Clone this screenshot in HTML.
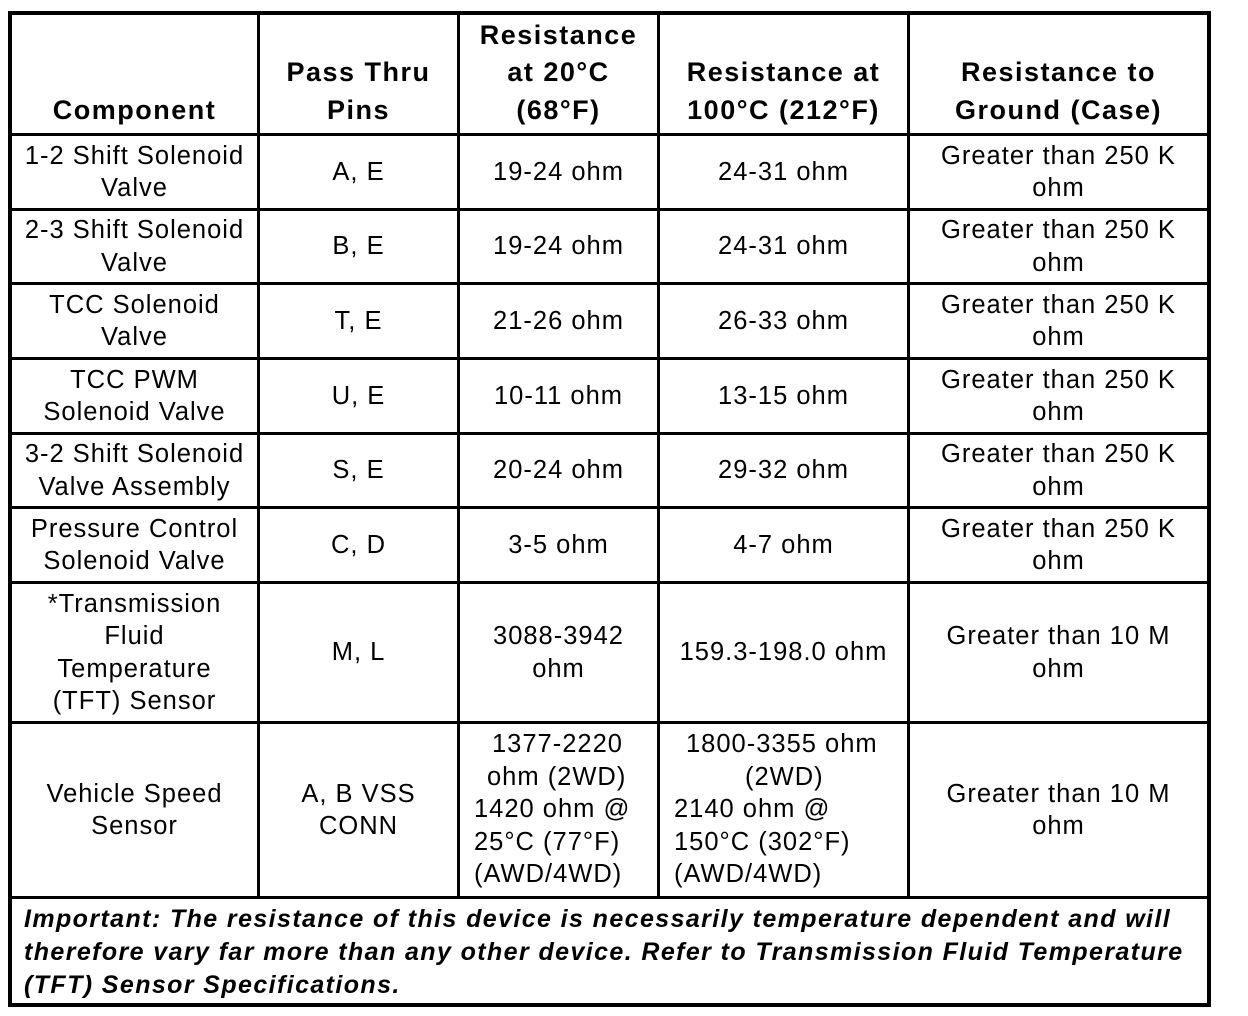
<!DOCTYPE html>
<html><head><meta charset="utf-8"><style>
body{margin:0;width:1248px;height:1016px;background:#fff;position:relative;font-family:"Liberation Sans",Arial,sans-serif;color:#000;overflow:hidden}
.l{position:absolute;background:#000}
.c{position:absolute;display:flex;flex-direction:column;justify-content:center;align-items:center;text-align:center;font-size:25.5px;letter-spacing:1px;line-height:32.5px;white-space:nowrap}
.h{justify-content:flex-end;font-weight:bold;font-size:27px;letter-spacing:1.5px;line-height:37.5px;padding-bottom:4px;box-sizing:border-box}
.v{position:absolute;font-size:25.5px;letter-spacing:1px;line-height:32.5px;white-space:nowrap}
.n{position:absolute;left:24px;top:903px;font-size:25px;letter-spacing:1.4px;line-height:33px;font-weight:bold;font-style:italic;white-space:nowrap}
</style></head><body>
<div class="l" style="left:8px;top:11px;width:1203px;height:4px"></div>
<div class="l" style="left:8px;top:1003px;width:1203px;height:4px"></div>
<div class="l" style="left:8px;top:11px;width:4px;height:996px"></div>
<div class="l" style="left:1207px;top:11px;width:4px;height:996px"></div>
<div class="l" style="left:257px;top:11px;width:3px;height:887px"></div>
<div class="l" style="left:457px;top:11px;width:3px;height:887px"></div>
<div class="l" style="left:657px;top:11px;width:3px;height:887px"></div>
<div class="l" style="left:907px;top:11px;width:3px;height:887px"></div>
<div class="l" style="left:8px;top:133px;width:1203px;height:3px"></div>
<div class="l" style="left:8px;top:208px;width:1203px;height:3px"></div>
<div class="l" style="left:8px;top:282px;width:1203px;height:3px"></div>
<div class="l" style="left:8px;top:357px;width:1203px;height:3px"></div>
<div class="l" style="left:8px;top:432px;width:1203px;height:3px"></div>
<div class="l" style="left:8px;top:506px;width:1203px;height:3px"></div>
<div class="l" style="left:8px;top:581px;width:1203px;height:3px"></div>
<div class="l" style="left:8px;top:721px;width:1203px;height:3px"></div>
<div class="l" style="left:8px;top:896px;width:1203px;height:3px"></div>

<div class="c h" style="left:12px;top:15px;width:245px;height:118px">Component</div>
<div class="c h" style="left:260px;top:15px;width:197px;height:118px">Pass Thru<br>Pins</div>
<div class="c h" style="left:460px;top:15px;width:197px;height:118px">Resistance<br>at 20°C<br>(68°F)</div>
<div class="c h" style="left:660px;top:15px;width:247px;height:118px">Resistance at<br>100°C (212°F)</div>
<div class="c h" style="left:910px;top:15px;width:297px;height:118px">Resistance to<br>Ground (Case)</div>

<div class="c" style="left:12px;top:136px;width:245px;height:72px">1-2 Shift Solenoid<br>Valve</div>
<div class="c" style="left:260px;top:136px;width:197px;height:72px">A, E</div>
<div class="c" style="left:460px;top:136px;width:197px;height:72px">19-24 ohm</div>
<div class="c" style="left:660px;top:136px;width:247px;height:72px">24-31 ohm</div>
<div class="c" style="left:910px;top:136px;width:297px;height:72px">Greater than 250 K<br>ohm</div>

<div class="c" style="left:12px;top:211px;width:245px;height:71px">2-3 Shift Solenoid<br>Valve</div>
<div class="c" style="left:260px;top:211px;width:197px;height:71px">B, E</div>
<div class="c" style="left:460px;top:211px;width:197px;height:71px">19-24 ohm</div>
<div class="c" style="left:660px;top:211px;width:247px;height:71px">24-31 ohm</div>
<div class="c" style="left:910px;top:211px;width:297px;height:71px">Greater than 250 K<br>ohm</div>

<div class="c" style="left:12px;top:285px;width:245px;height:72px">TCC Solenoid<br>Valve</div>
<div class="c" style="left:260px;top:285px;width:197px;height:72px">T, E</div>
<div class="c" style="left:460px;top:285px;width:197px;height:72px">21-26 ohm</div>
<div class="c" style="left:660px;top:285px;width:247px;height:72px">26-33 ohm</div>
<div class="c" style="left:910px;top:285px;width:297px;height:72px">Greater than 250 K<br>ohm</div>

<div class="c" style="left:12px;top:360px;width:245px;height:72px">TCC PWM<br>Solenoid Valve</div>
<div class="c" style="left:260px;top:360px;width:197px;height:72px">U, E</div>
<div class="c" style="left:460px;top:360px;width:197px;height:72px">10-11 ohm</div>
<div class="c" style="left:660px;top:360px;width:247px;height:72px">13-15 ohm</div>
<div class="c" style="left:910px;top:360px;width:297px;height:72px">Greater than 250 K<br>ohm</div>

<div class="c" style="left:12px;top:435px;width:245px;height:71px">3-2 Shift Solenoid<br>Valve Assembly</div>
<div class="c" style="left:260px;top:435px;width:197px;height:71px">S, E</div>
<div class="c" style="left:460px;top:435px;width:197px;height:71px">20-24 ohm</div>
<div class="c" style="left:660px;top:435px;width:247px;height:71px">29-32 ohm</div>
<div class="c" style="left:910px;top:435px;width:297px;height:71px">Greater than 250 K<br>ohm</div>

<div class="c" style="left:12px;top:509px;width:245px;height:72px">Pressure Control<br>Solenoid Valve</div>
<div class="c" style="left:260px;top:509px;width:197px;height:72px">C, D</div>
<div class="c" style="left:460px;top:509px;width:197px;height:72px">3-5 ohm</div>
<div class="c" style="left:660px;top:509px;width:247px;height:72px">4-7 ohm</div>
<div class="c" style="left:910px;top:509px;width:297px;height:72px">Greater than 250 K<br>ohm</div>

<div class="c" style="left:12px;top:584px;width:245px;height:137px">*Transmission<br>Fluid<br>Temperature<br>(TFT) Sensor</div>
<div class="c" style="left:260px;top:584px;width:197px;height:137px">M, L</div>
<div class="c" style="left:460px;top:584px;width:197px;height:137px">3088-3942<br>ohm</div>
<div class="c" style="left:660px;top:584px;width:247px;height:137px">159.3-198.0 ohm</div>
<div class="c" style="left:910px;top:584px;width:297px;height:137px">Greater than 10 M<br>ohm</div>

<div class="c" style="left:12px;top:724px;width:245px;height:172px">Vehicle Speed<br>Sensor</div>
<div class="c" style="left:260px;top:724px;width:197px;height:172px">A, B VSS<br>CONN</div>
<div class="v" style="left:492px;top:728px">1377-2220</div>
<div class="v" style="left:487px;top:760.5px">ohm (2WD)</div>
<div class="v" style="left:474px;top:793px">1420 ohm @</div>
<div class="v" style="left:474px;top:825.5px">25°C (77°F)</div>
<div class="v" style="left:474px;top:858px">(AWD/4WD)</div>
<div class="v" style="left:686px;top:728px">1800-3355 ohm</div>
<div class="v" style="left:745px;top:760.5px">(2WD)</div>
<div class="v" style="left:674px;top:793px">2140 ohm @</div>
<div class="v" style="left:674px;top:825.5px">150°C (302°F)</div>
<div class="v" style="left:674px;top:858px">(AWD/4WD)</div>
<div class="c" style="left:910px;top:724px;width:297px;height:172px">Greater than 10 M<br>ohm</div>

<div class="n">Important: The resistance of this device is necessarily temperature dependent and will<br>therefore vary far more than any other device. Refer to Transmission Fluid Temperature<br>(TFT) Sensor Specifications.</div>
</body></html>
